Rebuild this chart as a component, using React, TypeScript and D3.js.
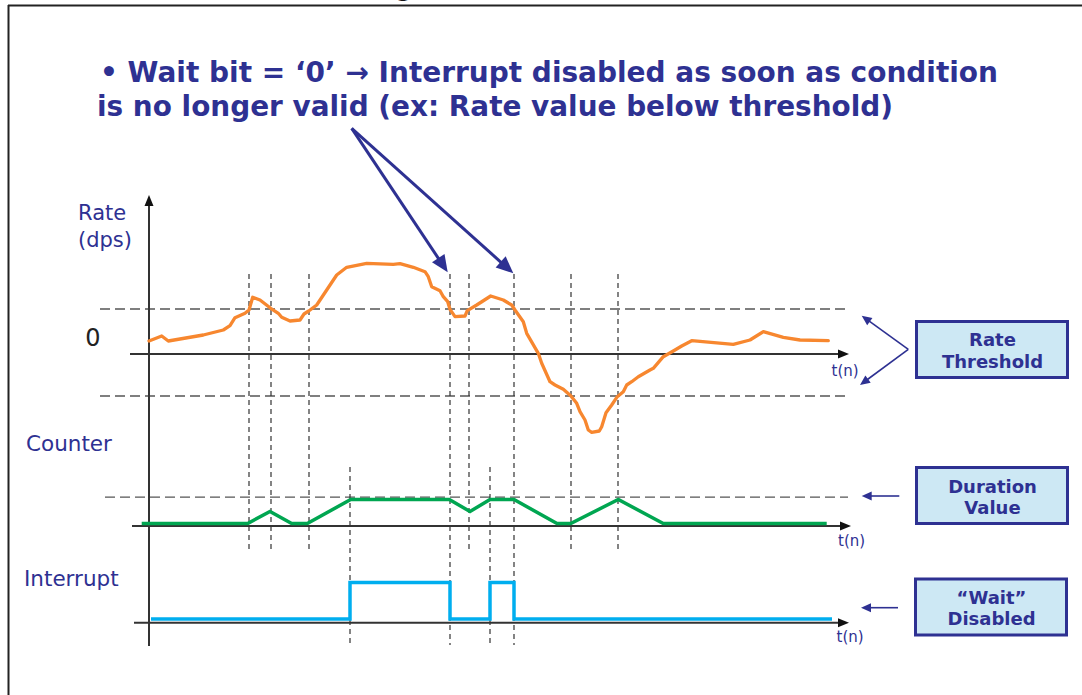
import React from "react";
import * as d3 from "d3";

// ---- data ----
// rate samples: t(n) and rate (dps, arbitrary units)
const rateT = [0, 12.7, 19.3, 54.3, 74.3, 81, 86, 96, 100, 103.7, 111, 121.7, 129.3, 132.7, 141, 151, 155, 159.7, 167.7, 177.7, 187.7, 197.7, 217.7, 244.3, 251, 264.3, 276, 279.3, 282.7, 291, 294.3, 298.7, 301, 306, 316, 318.3, 327.7, 341.7, 354.3, 362.7, 366, 374.3, 377.7, 389.3, 392.7, 401, 406, 414.3, 421.7, 427.7, 431, 436, 439.3, 442.7, 450.3, 452.7, 457, 462.7, 468.3, 474.3, 477.7, 482.7, 489.3, 501, 504.3, 514.3, 526, 532.7, 542.7, 584.3, 601, 614.3, 634.3, 651, 679.3];
const rateV = [13, 18, 13, 19, 24, 28.3, 36.3, 40.7, 44, 56.7, 54, 45.7, 40.7, 36.7, 33, 34, 40, 43, 49, 64, 79, 86.7, 90.7, 89.7, 90.3, 86.7, 82.3, 77.3, 67.3, 63.3, 57.3, 52.3, 44.7, 37.3, 38, 43.3, 49, 58, 54, 49, 44, 32.3, 20.7, 0.7, -9.3, -27.7, -31, -35.3, -41.7, -49.3, -57.7, -66, -76, -78.3, -77, -72.7, -58.7, -51, -42.7, -37.7, -31, -27.7, -22.7, -16, -14.3, -2.7, 4, 8, 13.3, 9.7, 14, 22.3, 16.7, 14, 13.3];
const upperThreshold = 45;
const lowerThreshold = -42;

const counterT = [-7.3, 98.7, 121, 142.7, 158.3, 201.7, 300.3, 321, 341, 365, 408, 421.7, 469.3, 514.3, 677.7];
const counterV = [0, 0, 5, 0, 0, 10, 10, 5, 10, 10, 0, 0, 10, 0, 0];
const durationValue = 11;

const interruptT = [2, 201, 301, 341, 365, 683];
const interruptV = [0, 1, 0, 1, 0, 0];

// event markers (vertical dashed lines): t and which panels they span
const eventT = [100, 122, 160, 201, 301, 320, 341, 365, 422, 469];
const eventSpan = ["rc", "rc", "rc", "ci", "all", "rc", "ci", "all", "rc", "rc"];

const titleLines = [
  "\u2022 Wait bit = \u20180\u2019 \u2192 Interrupt disabled as soon as condition",
  "is no longer valid (ex: Rate value below threshold)",
];

const BLUE = "#2E3192";
const AXIS = "#333";

export default function App() {
  const x = d3.scaleLinear().domain([0, 700]).range([149, 849]);
  const yRate = d3.scaleLinear().domain([0, 90]).range([354, 264]);
  const yCnt = d3.scaleLinear().domain([0, 10]).range([523.5, 499.5]);
  const yInt = d3.scaleLinear().domain([0, 1]).range([619, 582.5]);

  const rateData = rateT.map((t, i) => [t, rateV[i]] as [number, number]);
  const cntData = counterT.map((t, i) => [t, counterV[i]] as [number, number]);
  const intData = interruptT.map((t, i) => [t, interruptV[i]] as [number, number]);

  const rateLine = d3.line<[number, number]>().x(d => x(d[0])).y(d => yRate(d[1]));
  const cntLine = d3.line<[number, number]>().x(d => x(d[0])).y(d => yCnt(d[1]));
  const intLine = d3.line<[number, number]>().x(d => x(d[0])).y(d => yInt(d[1])).curve(d3.curveStepAfter);

  const spanY: Record<string, [number, number]> = {
    rc: [274, 550],
    ci: [467, 645],
    all: [274, 645],
  };

  const hArrow = (tipX: number, y: number, len = 11, half = 4.5, color = "#111") => (
    <polygon points={`${tipX},${y} ${tipX - len},${y - half} ${tipX - len},${y + half}`} fill={color} />
  );

  const arrowHead = (x1: number, y1: number, x2: number, y2: number, len: number, half: number, color: string) => {
    const a = Math.atan2(y2 - y1, x2 - x1);
    const bx = x2 - len * Math.cos(a);
    const by = y2 - len * Math.sin(a);
    const px = -Math.sin(a) * half;
    const py = Math.cos(a) * half;
    return <polygon points={`${x2},${y2} ${bx + px},${by + py} ${bx - px},${by - py}`} fill={color} />;
  };

  const thinArrow = (x1: number, y1: number, x2: number, y2: number) => {
    const a = Math.atan2(y2 - y1, x2 - x1);
    const len = 10;
    return (
      <g>
        <line x1={x1} y1={y1} x2={x2 - (len - 2) * Math.cos(a)} y2={y2 - (len - 2) * Math.sin(a)} stroke={BLUE} strokeWidth={1.6} />
        {arrowHead(x1, y1, x2, y2, len, 4.5, BLUE)}
      </g>
    );
  };

  const bigArrow = (x1: number, y1: number, x2: number, y2: number) => {
    const a = Math.atan2(y2 - y1, x2 - x1);
    const len = 17;
    return (
      <g>
        <line x1={x1} y1={y1} x2={x2 - (len - 2) * Math.cos(a)} y2={y2 - (len - 2) * Math.sin(a)} stroke={BLUE} strokeWidth={3} />
        {arrowHead(x1, y1, x2, y2, len, 7.5, BLUE)}
      </g>
    );
  };

  const box = (x0: number, y0: number, l1: string, l2: string, b1: number, b2: number) => (
    <g>
      <rect x={x0} y={y0} width={151} height={56} fill="#CDE8F4" stroke={BLUE} strokeWidth={3} />
      <text x={x0 + 76} y={b1} textAnchor="middle" fontFamily="DejaVu Sans" fontWeight="bold" fontSize={18} fill={BLUE}>{l1}</text>
      <text x={x0 + 76} y={b2} textAnchor="middle" fontFamily="DejaVu Sans" fontWeight="bold" fontSize={18} fill={BLUE}>{l2}</text>
    </g>
  );

  return (
    <svg width={1082} height={695} style={{ position: "absolute", left: 0, top: 0, background: "#fff" }}>
      {/* frame */}
      <line x1={8} y1={5.5} x2={1082} y2={5.5} stroke="#222" strokeWidth={2} />
      <line x1={8.5} y1={5} x2={8.5} y2={695} stroke="#222" strokeWidth={2} />
      <text x={396} y={-3} fontFamily="DejaVu Sans" fontWeight="bold" fontSize={22} fill="#111">g</text>

      {/* title */}
      <text x={100} y={82} fontFamily="DejaVu Sans" fontWeight="bold" fontSize={28} fill={BLUE} textLength={898} lengthAdjust="spacingAndGlyphs">{titleLines[0]}</text>
      <text x={97} y={116} fontFamily="DejaVu Sans" fontWeight="bold" fontSize={28} fill={BLUE} textLength={796} lengthAdjust="spacingAndGlyphs">{titleLines[1]}</text>

      {/* threshold dashed lines */}
      {[upperThreshold, lowerThreshold].map((v, i) => (
        <line key={i} x1={x(-49)} x2={x(696)} y1={yRate(v)} y2={yRate(v)} stroke="#555" strokeWidth={1.3} strokeDasharray="10,5" />
      ))}
      <line x1={x(-44)} x2={x(699)} y1={yCnt(durationValue)} y2={yCnt(durationValue)} stroke="#555" strokeWidth={1.3} strokeDasharray="10,5" />

      {/* event markers */}
      {eventT.map((t, i) => (
        <line key={i} x1={x(t)} x2={x(t)} y1={spanY[eventSpan[i]][0]} y2={spanY[eventSpan[i]][1]} stroke="#333" strokeWidth={1.2} strokeDasharray="5,4" />
      ))}

      {/* axes */}
      <line x1={x(0)} x2={x(0)} y1={203} y2={646} stroke={AXIS} strokeWidth={2} />
      <polygon points={`${x(0)},195 ${x(0) - 4.5},206 ${x(0) + 4.5},206`} fill="#111" />
      <line x1={x(-19)} x2={x(690)} y1={yRate(0)} y2={yRate(0)} stroke={AXIS} strokeWidth={2} />
      {hArrow(x(700), yRate(0))}
      <line x1={x(-17)} x2={x(692)} y1={526} y2={526} stroke={AXIS} strokeWidth={2} />
      {hArrow(x(702), 526)}
      <line x1={x(-15)} x2={x(690)} y1={622.7} y2={622.7} stroke={AXIS} strokeWidth={2} />
      {hArrow(x(700), 622.7)}

      {/* series */}
      <path d={rateLine(rateData) || ""} fill="none" stroke="#F7872F" strokeWidth={3.3} strokeLinejoin="round" strokeLinecap="round" />
      <path d={cntLine(cntData) || ""} fill="none" stroke="#00A651" strokeWidth={3.5} strokeLinejoin="miter" />
      <path d={intLine(intData) || ""} fill="none" stroke="#00AEEF" strokeWidth={3.5} />

      {/* axis labels */}
      <text x={78} y={220} fontFamily="DejaVu Sans" fontSize={21} fill={BLUE}>Rate</text>
      <text x={78} y={247} fontFamily="DejaVu Sans" fontSize={21} fill={BLUE}>(dps)</text>
      <text x={93} y={346} textAnchor="middle" fontFamily="DejaVu Sans" fontSize={24} fill="#222">0</text>
      <text x={26} y={450.5} fontFamily="DejaVu Sans" fontSize={21.5} fill={BLUE}>Counter</text>
      <text x={24} y={585.5} fontFamily="DejaVu Sans" fontSize={21.5} fill={BLUE}>Interrupt</text>
      <text x={831.5} y={376} fontFamily="DejaVu Sans" fontSize={15} fill={BLUE}>t(n)</text>
      <text x={838} y={546} fontFamily="DejaVu Sans" fontSize={15} fill={BLUE}>t(n)</text>
      <text x={836.5} y={642} fontFamily="DejaVu Sans" fontSize={15} fill={BLUE}>t(n)</text>

      {/* callout arrows */}
      {bigArrow(351.7, 128.3, 447.7, 272.3)}
      {bigArrow(351.7, 128.3, 513.3, 273.3)}

      {/* annotation boxes and pointers */}
      {thinArrow(908.3, 349.3, 861.7, 315.7)}
      {thinArrow(908.3, 349.3, 860, 385)}
      {box(916.5, 321.5, "Rate", "Threshold", 345.5, 368)}
      {thinArrow(899.3, 496, 861.7, 496)}
      {box(916.5, 467.5, "Duration", "Value", 492.5, 513.5)}
      {thinArrow(898, 607.7, 861, 607.7)}
      {box(915.5, 579, "\u201CWait\u201D", "Disabled", 604, 625)}
    </svg>
  );
}
